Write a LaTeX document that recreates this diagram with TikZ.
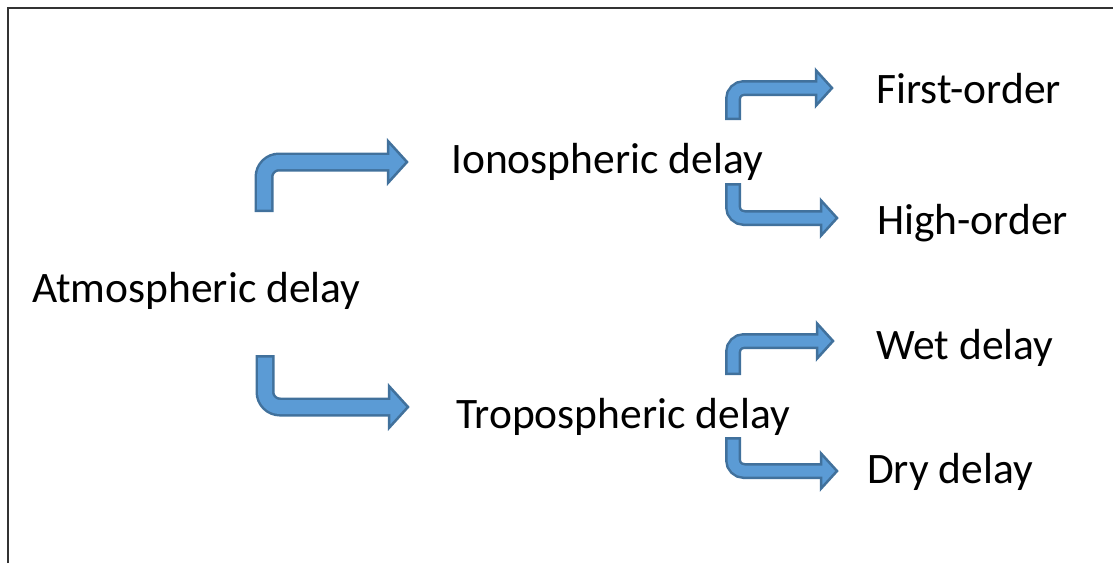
\documentclass[tikz,border=0pt]{standalone}
\usepackage{fontspec}
\setmainfont{Carlito}
\usetikzlibrary{calc, positioning}
\definecolor{ArrowFill}{RGB}{91, 155, 213}
\definecolor{ArrowEdge}{RGB}{65, 113, 156}

% bent block arrow: start, tip, shaft width, bend radius
\newcommand{\bentarrow}[4]{%
    \path (#2) ++(-#3,0) coordinate (hb);
    \draw[line width=#3pt, ArrowEdge, rounded corners=#4pt] (#1) |- ($(hb)+(1,0)$);
    \filldraw[fill=ArrowFill, draw=ArrowEdge, line width=2.5pt, line join=miter]
        (#2) -- ($(hb)+(0,1.1*#3)$) -- ($(hb)+(0,-1.1*#3)$) -- cycle;
    \draw[line width=#3pt-5pt, ArrowFill, rounded corners=#4pt, shorten <=2.5pt] (#1) |- ($(hb)+(2.5,0)$);
}

\tikzset{
    txt/.style={anchor=base west, inner sep=0pt, font=\fontsize{43.5}{50}\selectfont}
}

\begin{document}
\begin{tikzpicture}[x=1pt, y=-1pt]
    \useasboundingbox (0,0) rectangle (1113,563);
    \draw[black!80, line width=1.5pt] (8,563) |- (1113,8);

    % Texts
    \node[txt] (atm) at (32,302) {Atmospheric delay};
    \node[txt] (iono) at (451,173) {Ionospheric delay};
    \node[txt] (tropo) at (456,428) {Tropospheric delay};
    \node[txt] (first) at (876,103) {First-order};
    \node[txt] (high) at (877,234) {High-order};
    \node[txt] (wet) at (876,359) {Wet delay};
    \node[txt] (dry) at (867,483) {Dry delay};

    % Arrow ends
    \coordinate (ionoS) at (264,212);
    \coordinate (ionoT) at (407,162);
    \coordinate (tropoS) at (265,355);
    \coordinate (tropoT) at (408,407);
    \coordinate (firstS) at (733,120);
    \coordinate (firstT) at (832,88);
    \coordinate (highS) at (733,183);
    \coordinate (highT) at (837,218);
    \coordinate (wetS) at (733,375);
    \coordinate (wetT) at (833,341);
    \coordinate (dryS) at (733,437);
    \coordinate (dryT) at (837,471);

    % Arrows
    \bentarrow{ionoS}{ionoT}{19}{15}
    \bentarrow{tropoS}{tropoT}{19}{15}
    \bentarrow{firstS}{firstT}{16}{11}
    \bentarrow{highS}{highT}{16}{11}
    \bentarrow{wetS}{wetT}{16}{11}
    \bentarrow{dryS}{dryT}{16}{11}
\end{tikzpicture}
\end{document}
